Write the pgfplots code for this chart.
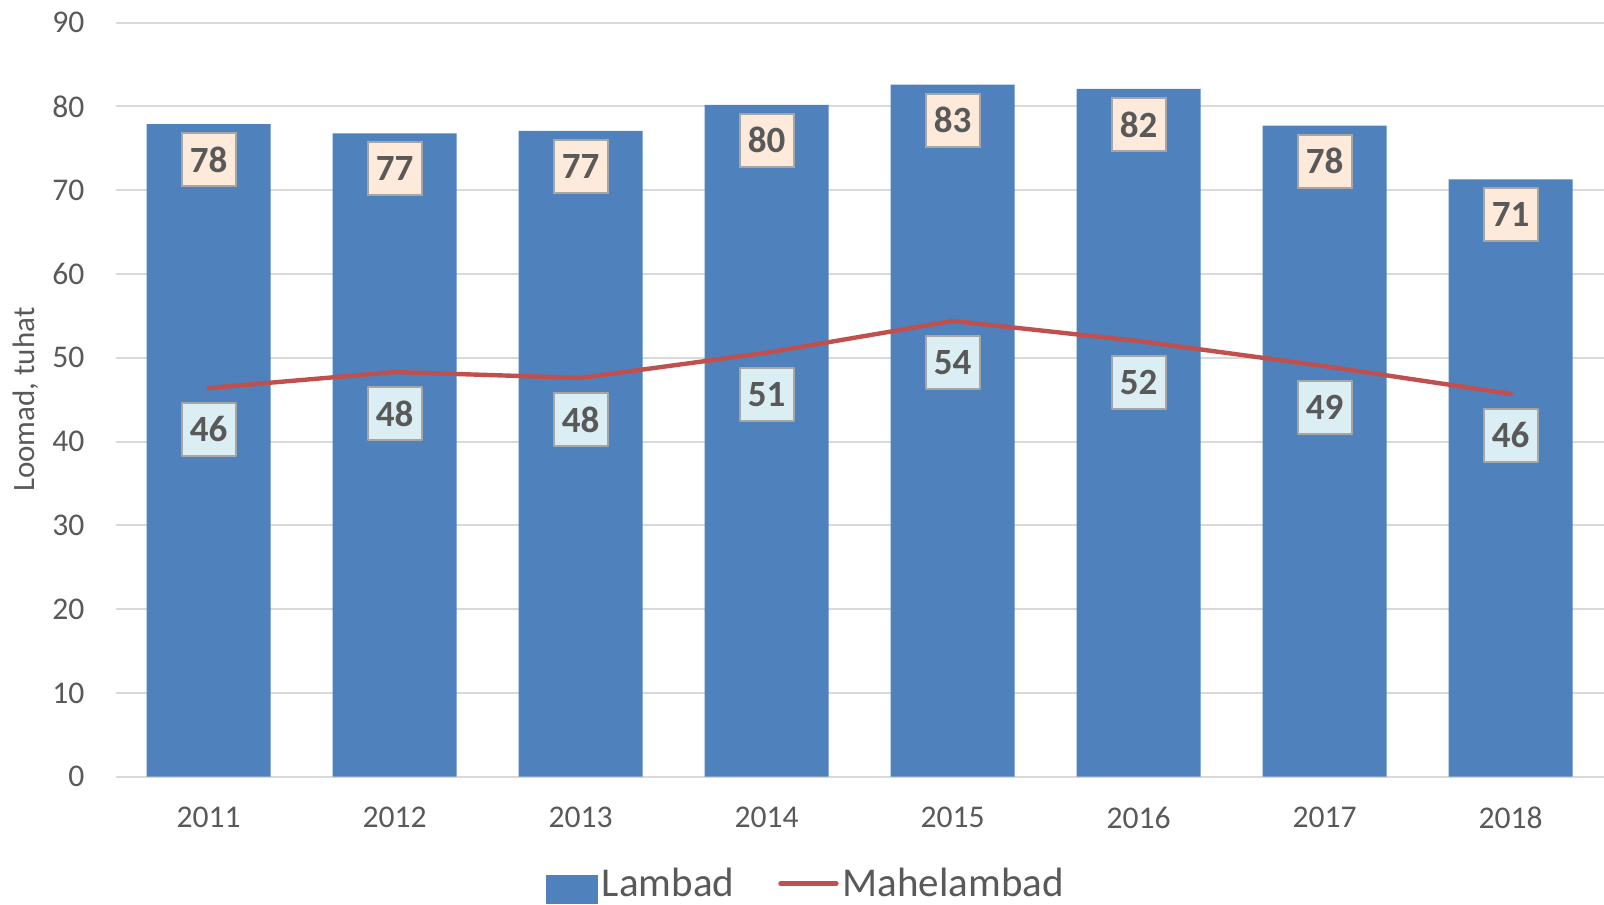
\documentclass[border=0pt]{standalone}
\usepackage{fontspec}
\setmainfont{Carlito}
\usepackage{pgfplots}
\pgfplotsset{compat=1.18}

\definecolor{barblue}{HTML}{4F81BD}
\definecolor{linered}{HTML}{C0504D}
\definecolor{txtgray}{HTML}{595959}
\definecolor{gridgray}{HTML}{D9D9D9}
\definecolor{peach}{HTML}{FDEADA}
\definecolor{paleblue}{HTML}{DBEEF4}
\definecolor{boxgray}{HTML}{A6A6A6}

\begin{document}
\begin{tikzpicture}
\useasboundingbox (-57.85pt,-64pt) rectangle (744.15pt,388.35pt);
\begin{axis}[
    at={(0,0)}, anchor=south west,
    scale only axis,
    width=744pt, height=377pt,
    xmin=-0.5, xmax=7.5,
    ymin=0, ymax=90,
    xtick={0,1,2,3,4,5,6,7},
    xticklabels={2011,2012,2013,2014,2015,2016,2017,2018},
    ytick={0,10,...,90},
    /pgf/number format/assume math mode=true,
    axis line style={draw=none},
    major tick length=0pt,
    ymajorgrids,
    grid style={gridgray, line width=1pt},
    xticklabel style={font=\fontsize{15.8}{18}\selectfont, text=txtgray,
        anchor=center, yshift=-20.5pt},
    yticklabel style={font=\fontsize{15.8}{18}\selectfont, text=txtgray,
        anchor=east, inner sep=0pt, xshift=-15.5pt},
    ylabel={Loomad, tuhat},
    every axis y label/.style={at={(axis description cs:-0.0605,0.5)},
        rotate=90, anchor=center, font=\fontsize{15.5}{18}\selectfont, text=txtgray},
    legend style={at={(axis description cs:0.4645,-0.142)}, anchor=center,
        draw=none, fill=none, legend columns=2,
        font=\fontsize{20.5}{24}\selectfont, text=txtgray,
        /tikz/every even column/.append style={column sep=20pt}},
    clip=false,
]

% Lambad (bars)
\addplot[
    ybar, bar shift=0pt, bar width=62pt,
    fill=barblue, draw=none,
    nodes near coords={\pgfmathprintnumber[fixed,precision=0]{\pgfplotspointmeta}},
    every node near coord/.append style={anchor=north, yshift=-4pt,
        fill=peach, draw=boxgray, line width=1pt, inner sep=0pt,
        minimum width=27pt, minimum height=26.5pt,
        font=\fontsize{18.5}{20}\selectfont\bfseries, text=txtgray},
    legend image code/.code={\fill[barblue] (0pt,-10pt) rectangle (26pt,4.5pt);},
] coordinates {
    (0, 77.9) (1, 76.8) (2, 77.1) (3, 80.2)
    (4, 82.6) (5, 82.1) (6, 77.7) (7, 71.3)
};
\addlegendentry{Lambad}

% Mahelambad (line)
\addplot[
    linered, line width=2.2pt, mark=none, line cap=round, line join=round,
    nodes near coords={\pgfmathprintnumber[fixed,precision=0]{\pgfplotspointmeta}},
    every node near coord/.append style={anchor=north, yshift=-7pt,
        fill=paleblue, draw=boxgray, line width=1pt, inner sep=0pt,
        minimum width=27pt, minimum height=26.5pt,
        font=\fontsize{18.5}{20}\selectfont\bfseries, text=txtgray},
    legend image code/.code={\draw[linered, line width=2.2pt, line cap=round] (0pt,0pt) -- (28pt,0pt);},
] coordinates {
    (0, 46.4) (1, 48.3) (2, 47.6) (3, 50.6)
    (4, 54.4) (5, 52.0) (6, 49.0) (7, 45.7)
};
\addlegendentry{Mahelambad}

\end{axis}
\end{tikzpicture}
\end{document}
